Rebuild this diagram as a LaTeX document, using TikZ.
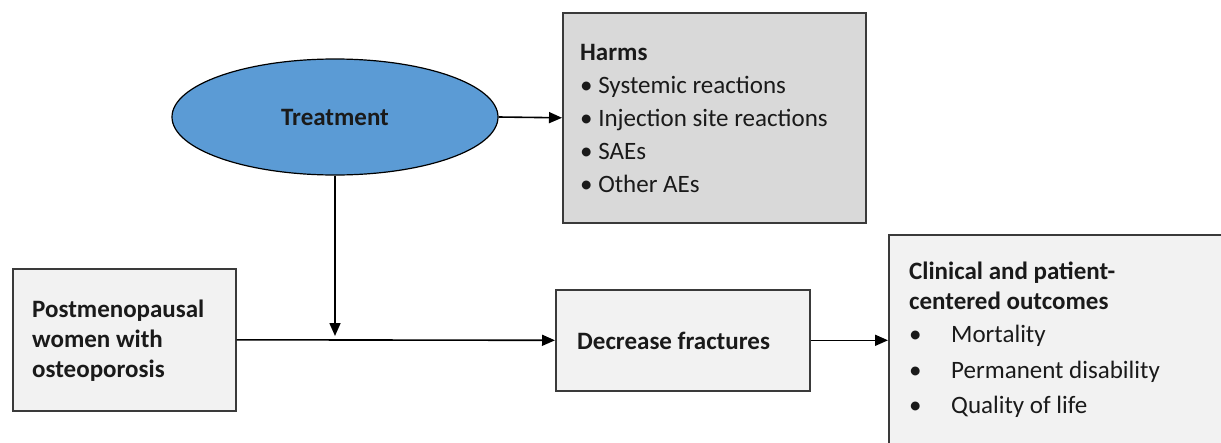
\documentclass[tikz,border=0pt]{standalone}
\usepackage{fontspec}
\setmainfont{Carlito}
\usetikzlibrary{shapes.geometric,arrows.meta}
\definecolor{ellblue}{HTML}{5B9BD5}
\definecolor{harmgray}{HTML}{D9D9D9}
\definecolor{lightbox}{HTML}{F2F2F2}
\definecolor{boxline}{HTML}{3A3A3A}
\definecolor{txt}{HTML}{1A1A1A}
\begin{document}
\begin{tikzpicture}[x=1pt,y=-1pt,
  box/.style={draw=boxline,line width=1.6pt,fill=lightbox,anchor=north west,inner sep=0pt},
  lbl/.style={anchor=west,align=left,inner sep=0pt,text=txt,font={\fontsize{25}{30}\selectfont}},
  conn/.style={draw=black,line width=1.6pt,-{Triangle[length=13pt,width=11pt]}}]
\useasboundingbox (0,0) rectangle (1221,442);
% Treatment ellipse
\node[ellipse,draw=black,line width=1.2pt,fill=ellblue,minimum width=326pt,minimum height=116pt,inner sep=0pt,text=txt,font={\fontsize{25}{30}\selectfont\bfseries}] (treat) at (335,117) {Treatment};
% Harms
\node[box,fill=harmgray,minimum width=303pt,minimum height=210pt] (harms) at (562,12) {};
\node[lbl,font={\fontsize{25}{33}\selectfont}] (harmstext) at (580,118) {\textbf{Harms}\\•~Systemic reactions\\•~Injection site reactions\\•~SAEs\\•~Other AEs};
% Postmenopausal
\node[box,minimum width=223pt,minimum height=142pt] (pm) at (12,268) {};
\node[lbl,font={\fontsize{25}{30}\selectfont\bfseries}] (pmtext) at (32,341) {Postmenopausal\\women with\\osteoporosis};
% Decrease fractures
\node[box,minimum width=254pt,minimum height=101pt] (dec) at (555,289) {};
\node[lbl,font={\fontsize{25}{30}\selectfont\bfseries}] (dectext) at (577,341) {Decrease fractures};
% Clinical outcomes (extends past the picture edge)
\node[box,minimum width=360pt,minimum height=240pt] (clin) at (888,234) {};
\node[lbl] (clintext) at (909,340) {\textbf{Clinical and patient-}\\\textbf{centered outcomes}\\[3pt]\makebox[42pt][l]{•}Mortality\\[6pt]\makebox[42pt][l]{•}Permanent disability\\[5pt]\makebox[42pt][l]{•}Quality of life};
% connectors
\coordinate (join) at (335,339);
\draw[conn] (treat.east) -- (harms.west);
\draw[conn,shorten >=3pt] (treat.south) -- (join);
\draw[conn] (pm.east) -- (dec.west);
\draw[conn] (dec.east) -- (dec.east -| clin.west);
\end{tikzpicture}
\end{document}
